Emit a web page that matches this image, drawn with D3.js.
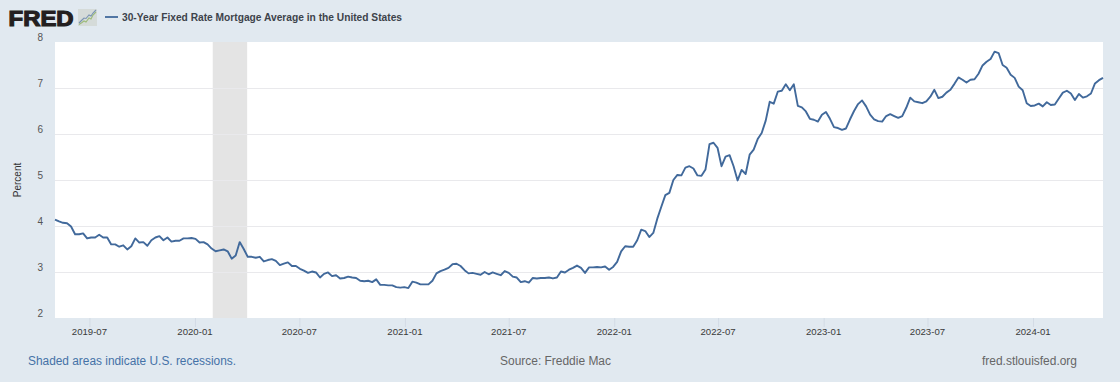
<!DOCTYPE html>
<html><head><meta charset="utf-8">
<script src="https://cdn.jsdelivr.net/npm/d3@7"></script>
<style>html,body{margin:0;padding:0;background:#e1e9f0}svg{display:block}text{font-family:"Liberation Sans",Arial,sans-serif}</style>
</head><body><svg id="c" width="1120" height="382"></svg>
<script>
const seriesName = "30-Year Fixed Rate Mortgage Average in the United States";
const firstWeek = "2019-05-02";
const rates = [
4.14,4.10,4.07,4.06,3.99,3.82,3.82,3.84,3.73,3.75,3.75,3.81,3.75,3.75,3.60,3.60,3.55,3.58,3.49,3.56,3.73,3.64,3.65,3.57,3.69,3.75,3.78,3.69,3.75,3.66,3.68,3.68,3.73,3.73,3.74,
3.72,3.64,3.65,3.60,3.51,3.45,3.47,3.49,3.45,3.29,3.36,3.65,3.50,3.33,3.33,3.31,3.33,3.23,3.26,3.28,3.24,3.15,3.18,3.21,3.13,3.13,3.07,3.03,2.98,3.01,2.99,2.88,2.96,2.99,2.91,2.93,2.86,2.87,2.90,2.88,2.87,2.81,2.80,2.81,2.78,2.84,2.72,2.72,2.71,2.71,2.67,2.66,2.67,
2.65,2.79,2.77,2.73,2.73,2.73,2.81,2.97,3.02,3.05,3.09,3.17,3.18,3.13,3.04,2.97,2.98,2.96,2.94,3.00,2.95,2.99,2.96,2.93,3.02,2.98,2.90,2.88,2.78,2.80,2.77,2.87,2.86,2.87,2.87,2.88,2.86,2.88,3.01,2.99,3.05,3.09,3.14,3.09,2.98,3.10,3.10,3.11,3.10,3.12,3.05,3.11,
3.22,3.45,3.56,3.55,3.55,3.69,3.92,3.89,3.76,3.85,4.16,4.42,4.67,4.72,5.00,5.11,5.10,5.27,5.30,5.25,5.10,5.09,5.23,5.78,5.81,5.70,5.30,5.51,5.54,5.30,4.99,5.22,5.13,5.55,5.66,5.89,6.02,6.29,6.70,6.66,6.92,6.94,7.08,6.95,7.08,6.61,6.58,6.49,6.33,6.31,6.27,6.42,
6.48,6.33,6.15,6.13,6.09,6.12,6.32,6.50,6.65,6.73,6.60,6.42,6.32,6.28,6.27,6.39,6.43,6.39,6.35,6.39,6.57,6.79,6.71,6.69,6.67,6.71,6.81,6.96,6.78,6.81,6.90,6.96,7.09,7.23,7.18,7.12,7.18,7.19,7.31,7.49,7.57,7.63,7.79,7.76,7.50,7.44,7.29,7.22,7.03,6.95,6.67,6.61,
6.62,6.66,6.60,6.69,6.63,6.64,6.77,6.90,6.94,6.88,6.74,6.87,6.79,6.82,6.88,7.10,7.17,7.22];
const xTickLabels = ["2019-07","2020-01","2020-07","2021-01","2021-07","2022-01","2022-07","2023-01","2023-07","2024-01"];
const yTickValues = [2,3,4,5,6,7,8];
const recessionSpan = ["2020-02-01","2020-04-01"];
const axisStart = "2019-05-02", axisEnd = "2024-05-02";
const logoGreen = [[1,1.5],[4,3.5],[6,5],[8,4],[11,8],[13,7],[15,11],[18,14]];
const logoBlue = [[1,3],[4,6],[6,8],[8,7.5],[11,11],[13,10],[15,13],[18,16]];

const parse = d3.utcParse("%Y-%m-%d"), parseM = d3.utcParse("%Y-%m");
const L=55,R=1103,T=42,B=318;
const svg=d3.select("#c");
const x=d3.scaleUtc().domain([parse(axisStart),parse(axisEnd)]).range([L,R]);
const y=d3.scaleLinear().domain([2,8]).range([B,T]);
const t0=parse(firstWeek);
const data=rates.map((v,i)=>({d:d3.utcDay.offset(t0,7*i),v}));

svg.append("rect").attr("x",L).attr("y",T).attr("width",R-L).attr("height",B-T).attr("fill","#fff");
svg.append("rect").attr("x",x(parse(recessionSpan[0]))).attr("y",T)
  .attr("width",x(parse(recessionSpan[1]))-x(parse(recessionSpan[0]))).attr("height",B-T).attr("fill","#e4e4e4");

svg.append("g").selectAll("line").data(yTickValues.filter(v=>v>2&&v<8)).join("line")
  .attr("x1",L).attr("x2",R).attr("y1",d=>y(d)+.5).attr("y2",d=>y(d)+.5).attr("stroke","#e9e9ec").attr("stroke-width",1);
svg.append("g").selectAll("text").data(yTickValues).join("text")
  .attr("x",43).attr("y",d=>y(d)-1).attr("text-anchor","end").attr("font-size",10).attr("fill","#555").text(d=>d);

const xg=svg.append("g");
xg.selectAll("line").data(xTickLabels).join("line")
  .attr("x1",d=>x(parseM(d))+.5).attr("x2",d=>x(parseM(d))+.5).attr("y1",B).attr("y2",B+9).attr("stroke","#d3dbe5");
xg.selectAll("text").data(xTickLabels).join("text")
  .attr("x",d=>x(parseM(d))).attr("y",335).attr("text-anchor","middle").attr("font-size",9.6).attr("fill","#3a3a3a").text(d=>d);

svg.append("path").datum(data).attr("fill","none").attr("stroke","#41699b").attr("stroke-width",1.9).attr("stroke-linejoin","round")
  .attr("d",d3.line().x(d=>x(d.d)).y(d=>y(d.v)));

svg.append("text").attr("transform","translate(20.5,180) rotate(-90)").attr("text-anchor","middle").attr("font-size",10).attr("fill","#333").text("Percent");

// header
svg.append("text").attr("x",8.6).attr("y",25.9).attr("font-size",22).attr("font-weight","bold").attr("fill","#231f20")
  .attr("stroke","#231f20").attr("stroke-width",1.2).attr("textLength",65).attr("lengthAdjust","spacingAndGlyphs").text("FRED");
const ic=svg.append("g").attr("transform","translate(78,9)");
ic.append("rect").attr("width",19).attr("height",17).attr("fill","#d5dbd9");
const lg=d3.line().x(d=>d[0]).y(d=>17-d[1]);
ic.append("path").attr("d",lg(logoGreen)).attr("fill","none").attr("stroke","#9dbb7a").attr("stroke-width",1.1);
ic.append("path").attr("d",lg(logoBlue)).attr("fill","none").attr("stroke","#7a94b3").attr("stroke-width",1.1);
svg.append("line").attr("x1",105).attr("x2",118).attr("y1",17).attr("y2",17).attr("stroke","#41699b").attr("stroke-width",1.8);
svg.append("text").attr("x",122).attr("y",20.5).attr("font-size",10.2).attr("font-weight","bold").attr("fill","#3d434b")
  .attr("textLength",280).attr("lengthAdjust","spacingAndGlyphs").text(seriesName);

// footer
const foot=[["Shaded areas indicate U.S. recessions.",28,208,"#4572a7"],["Source: Freddie Mac",500,111,"#666"],["fred.stlouisfed.org",982,95,"#666"]];
svg.append("g").selectAll("text").data(foot).join("text")
  .attr("x",d=>d[1]).attr("y",365).attr("font-size",12).attr("fill",d=>d[3])
  .attr("textLength",d=>d[2]).attr("lengthAdjust","spacingAndGlyphs").text(d=>d[0]);
</script></body></html>
